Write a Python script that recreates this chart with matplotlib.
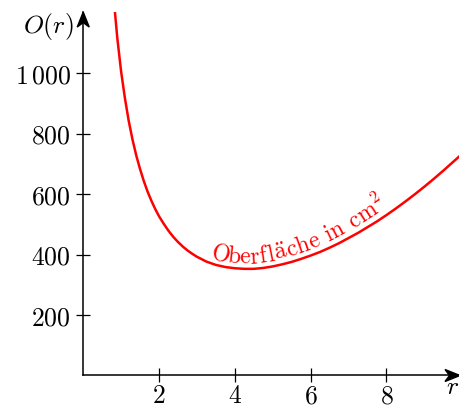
import numpy as np
import matplotlib.pyplot as plt
from matplotlib.patches import Polygon
from matplotlib.transforms import IdentityTransform

plt.rcParams['mathtext.fontset'] = 'cm'
plt.rcParams['font.family'] = 'serif'

# values
r_vals = [0.80, 0.90, 1.00, 1.10, 1.20, 1.30, 1.40, 1.50, 1.60, 1.70, 1.80, 1.90,
          2.00, 2.125, 2.25, 2.375, 2.50, 2.625, 2.75, 2.875, 3.00, 3.25, 3.50,
          3.75, 4.00, 4.25, 4.50, 4.75, 5.00, 5.25, 5.50, 5.75, 6.00, 6.25, 6.50,
          6.75, 7.00, 7.25, 7.50, 7.75, 8.00, 8.25, 8.50, 8.75, 9.00, 9.25, 9.50,
          9.75, 10.00]
o_vals = [1254, 1116, 1006, 918, 843, 781, 728, 683, 643, 608, 578, 551,
          527, 502, 479, 459, 442, 427, 414, 403, 393, 377, 366,
          359, 355, 353, 353, 356, 361, 368, 376, 386, 397, 409, 423,
          438, 455, 472, 491, 510, 531, 553, 576, 600, 625, 651, 678,
          706, 734]

x_ticks = [2, 4, 6, 8]
x_ticklabels = ['2', '4', '6', '8']
y_ticks = [200, 400, 600, 800, 1000]
y_ticklabels = ['200', '400', '600', '800', r'1\,000']

label_tokens = ['O', 'b', 'e', 'r', 'f', 'l', r'\ddot{a}', 'c', 'h', 'e', ' ',
                'i', 'n', ' ', 'c', 'm^{2}']

red = '#ff0000'
fs = 18.5
fs_label = 17

fig = plt.figure(figsize=(4.6, 4.07), dpi=100)
ax = fig.add_axes([0.1809, 0.0774, 0.8191, 0.893])
ax.set_xlim(0, 9.94)
ax.set_ylim(0, 1203)

ax.plot(r_vals, o_vals, color=red, lw=1.8)

for s in ['top', 'right']:
    ax.spines[s].set_visible(False)
for s in ['left', 'bottom']:
    ax.spines[s].set_linewidth(1.1)

ax.set_xticks(x_ticks)
ax.set_xticklabels(['$' + t + '$' for t in x_ticklabels], fontsize=fs)
ax.set_yticks(y_ticks)
ax.set_yticklabels(['$' + t + '$' for t in y_ticklabels], fontsize=fs)
ax.tick_params(axis='x', direction='inout', length=10.5, width=0.9, pad=0.5)
ax.tick_params(axis='y', direction='inout', length=10.5, width=0.9, pad=3.5)

# stealth arrow heads in pixel coordinates
x0, y0 = ax.transAxes.transform((0, 0))
x1, y1 = ax.transAxes.transform((1, 1))
L, W, N = 15, 6, 10.5
fig.patches.append(Polygon([(x1, y0), (x1 - L, y0 + W), (x1 - N, y0), (x1 - L, y0 - W)],
                           closed=True, color='black', transform=IdentityTransform()))
fig.patches.append(Polygon([(x0, y1), (x0 - W, y1 - L), (x0, y1 - N), (x0 + W, y1 - L)],
                           closed=True, color='black', transform=IdentityTransform()))

fig.text(74 / 460, 1 - 26 / 407, r'$O(r)$', fontsize=fs, ha='right', va='center')
fig.text(453 / 460, 1 - 387 / 407, r'$r$', fontsize=fs, ha='center', va='center')

# text along the curve
fig.canvas.draw()
renderer = fig.canvas.get_renderer()
pts = ax.transData.transform(np.column_stack([r_vals, o_vals]))
seg = np.hypot(np.diff(pts[:, 0]), np.diff(pts[:, 1]))
arc = np.concatenate([[0], np.cumsum(seg)])
pos = np.interp(3.30, r_vals, arc)
space = 0.33 * fs_label * 100 / 72
track = -0.75
offset = 5.5
for tok in label_tokens:
    if tok == ' ':
        pos += space
        continue
    t = fig.text(0, 0, r'$\mathrm{' + tok + '}$', fontsize=fs_label,
                 transform=IdentityTransform())
    w = t.get_window_extent(renderer).width
    t.remove()
    c = pos + w / 2
    px = np.interp(c, arc, pts[:, 0])
    py = np.interp(c, arc, pts[:, 1])
    dx = np.interp(c + 4, arc, pts[:, 0]) - np.interp(c - 4, arc, pts[:, 0])
    dy = np.interp(c + 4, arc, pts[:, 1]) - np.interp(c - 4, arc, pts[:, 1])
    ang = np.arctan2(dy, dx)
    nx, ny = -np.sin(ang), np.cos(ang)
    fig.text(px + nx * offset, py + ny * offset, r'$\mathrm{' + tok + '}$',
             fontsize=fs_label, color=red, ha='center', va='baseline',
             rotation=np.degrees(ang), rotation_mode='anchor',
             transform=IdentityTransform())
    pos += w + track

fig.savefig('out.png', dpi=100)
